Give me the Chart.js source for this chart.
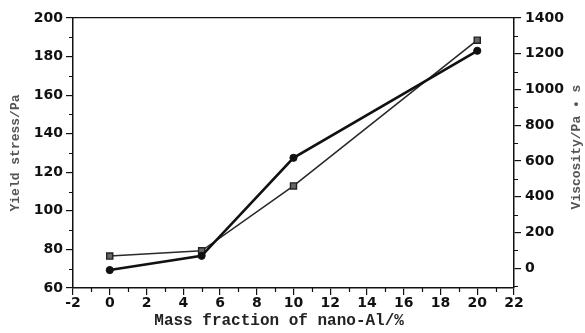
<!DOCTYPE html>
<html>
<head>
<meta charset="utf-8">
<script src="https://cdn.jsdelivr.net/npm/chart.js@4.4.1/dist/chart.umd.min.js"></script>
<style>
  html, body { margin: 0; padding: 0; background: #fff; }
  #wrap { width: 585px; height: 333px; }
</style>
</head>
<body>
<div id="wrap"><canvas id="c"></canvas></div>
<script>
// mass fraction of nano-Al (%)
var massFraction = [0, 5, 10, 20];
// yield stress, Pa (left axis, circles)
var yieldStress = [69.3, 76.7, 127.5, 183];
// viscosity, Pa·s (right axis, squares)
var viscosity = [68.7, 98, 461, 1276];

var xTicks = [-2, 0, 2, 4, 6, 8, 10, 12, 14, 16, 18, 20, 22];
var xMinor = [-1, 1, 3, 5, 7, 9, 11, 13, 15, 17, 19, 21];
var yTicks = [60, 80, 100, 120, 140, 160, 180, 200];
var yMinor = [70, 90, 110, 130, 150, 170, 190];
var y1Ticks = [0, 200, 400, 600, 800, 1000, 1200, 1400];
var y1Minor = [-100, 100, 300, 500, 700, 900, 1100, 1300];
var y1Title = 'Viscosity/Pa • s';

var tickFont = { family: '"DejaVu Sans", sans-serif', size: 14, weight: 'bold' };
var titleFont = { family: '"Liberation Mono", monospace', size: 13, weight: 'bold' };

function pts(ys) {
  return massFraction.map(function(x, i) { return { x: x, y: ys[i] }; });
}

function fixTicks(list) {
  return function(scale) {
    scale.ticks = list.map(function(v) { return { value: v }; });
  };
}

function plain(v) { return String(v); }

// short unlabelled ticks between the major ones, pointing outwards,
// plus the right axis title (reads bottom-to-top like the left one)
var axisExtras = {
  id: 'axisExtras',
  afterDraw: function(chart) {
    var ctx = chart.ctx, s = chart.scales;
    ctx.save();
    ctx.strokeStyle = '#111';
    ctx.lineWidth = 1.2;
    ctx.beginPath();
    xMinor.forEach(function(v) {
      var p = Math.round(s.x.getPixelForValue(v)) + 0.5;
      ctx.moveTo(p, s.x.top); ctx.lineTo(p, s.x.top + 4);
    });
    yMinor.forEach(function(v) {
      var p = Math.round(s.y.getPixelForValue(v)) + 0.5;
      ctx.moveTo(s.y.right, p); ctx.lineTo(s.y.right - 4, p);
    });
    y1Minor.forEach(function(v) {
      var p = Math.round(s.y1.getPixelForValue(v)) + 0.5;
      ctx.moveTo(s.y1.left, p); ctx.lineTo(s.y1.left + 4, p);
    });
    ctx.stroke();

    var cy = (s.y1.top + s.y1.bottom) / 2 - 6;
    ctx.translate(s.y1.right - 8, cy);
    ctx.rotate(-Math.PI / 2);
    ctx.font = titleFont.weight + ' ' + titleFont.size + 'px ' + titleFont.family;
    ctx.fillStyle = '#555';
    ctx.textAlign = 'center';
    ctx.textBaseline = 'middle';
    ctx.fillText(y1Title, 0, 0);
    ctx.restore();
  }
};

new Chart(document.getElementById('c'), {
  type: 'line',
  data: {
    datasets: [{
      label: 'Yield stress',
      data: pts(yieldStress),
      yAxisID: 'y',
      borderColor: '#111',
      backgroundColor: '#111',
      borderWidth: 2.6,
      pointStyle: 'circle',
      pointRadius: 3.6,
      pointBorderWidth: 1,
      tension: 0
    }, {
      label: 'Viscosity',
      data: pts(viscosity),
      yAxisID: 'y1',
      borderColor: '#2a2a2a',
      backgroundColor: '#666',
      borderWidth: 1.6,
      pointStyle: 'rect',
      pointRadius: 4.3,
      pointBorderColor: '#222',
      pointBorderWidth: 1.4,
      tension: 0
    }]
  },
  options: {
    responsive: true,
    maintainAspectRatio: false,
    animation: false,
    layout: { padding: { top: 18, left: 0, right: 0, bottom: 0 } },
    plugins: { legend: { display: false }, tooltip: { enabled: false } },
    scales: {
      x: {
        type: 'linear',
        position: 'bottom',
        min: -2, max: 22,
        afterBuildTicks: fixTicks(xTicks),
        afterFit: function(scale) { scale.height = 45; },
        grid: { drawOnChartArea: false, drawTicks: true, tickLength: 7, color: '#111', lineWidth: 1.2 },
        border: { display: true, color: '#111', width: 1.5 },
        ticks: { color: '#111', font: tickFont, padding: 0, maxRotation: 0, callback: plain },
        title: {
          display: true,
          // trailing spaces pull the centred title a little to the left
          text: 'Mass fraction of nano-Al/%   ',
          color: '#222',
          font: { family: '"Liberation Mono", monospace', size: 16, weight: 'bold' },
          padding: { top: 0, bottom: 2 }
        }
      },
      xTop: {
        type: 'linear',
        position: 'top',
        min: -2, max: 22,
        afterFit: function(scale) { scale.height = 0; },
        grid: { display: false },
        border: { display: true, color: '#111', width: 1.2 },
        ticks: { display: false }
      },
      y: {
        type: 'linear',
        position: 'left',
        min: 60, max: 200,
        afterBuildTicks: fixTicks(yTicks),
        afterFit: function(scale) { scale.width = 73; },
        grid: { drawOnChartArea: false, drawTicks: true, tickLength: 7, color: '#111', lineWidth: 1.2 },
        border: { display: true, color: '#111', width: 1.5 },
        ticks: { color: '#111', font: tickFont, padding: 3, callback: plain },
        title: {
          display: true,
          text: 'Yield stress/Pa',
          color: '#555',
          font: titleFont,
          padding: { top: 8, bottom: 0 }
        }
      },
      y1: {
        type: 'linear',
        position: 'right',
        min: -110, max: 1400,
        afterBuildTicks: fixTicks(y1Ticks),
        afterFit: function(scale) { scale.width = 71; },
        grid: { drawOnChartArea: false, drawTicks: true, tickLength: 7, color: '#111', lineWidth: 1.2 },
        border: { display: true, color: '#111', width: 1.5 },
        ticks: { color: '#111', font: tickFont, padding: 4, callback: plain }
      }
    }
  },
  plugins: [axisExtras]
});
</script>
</body>
</html>
